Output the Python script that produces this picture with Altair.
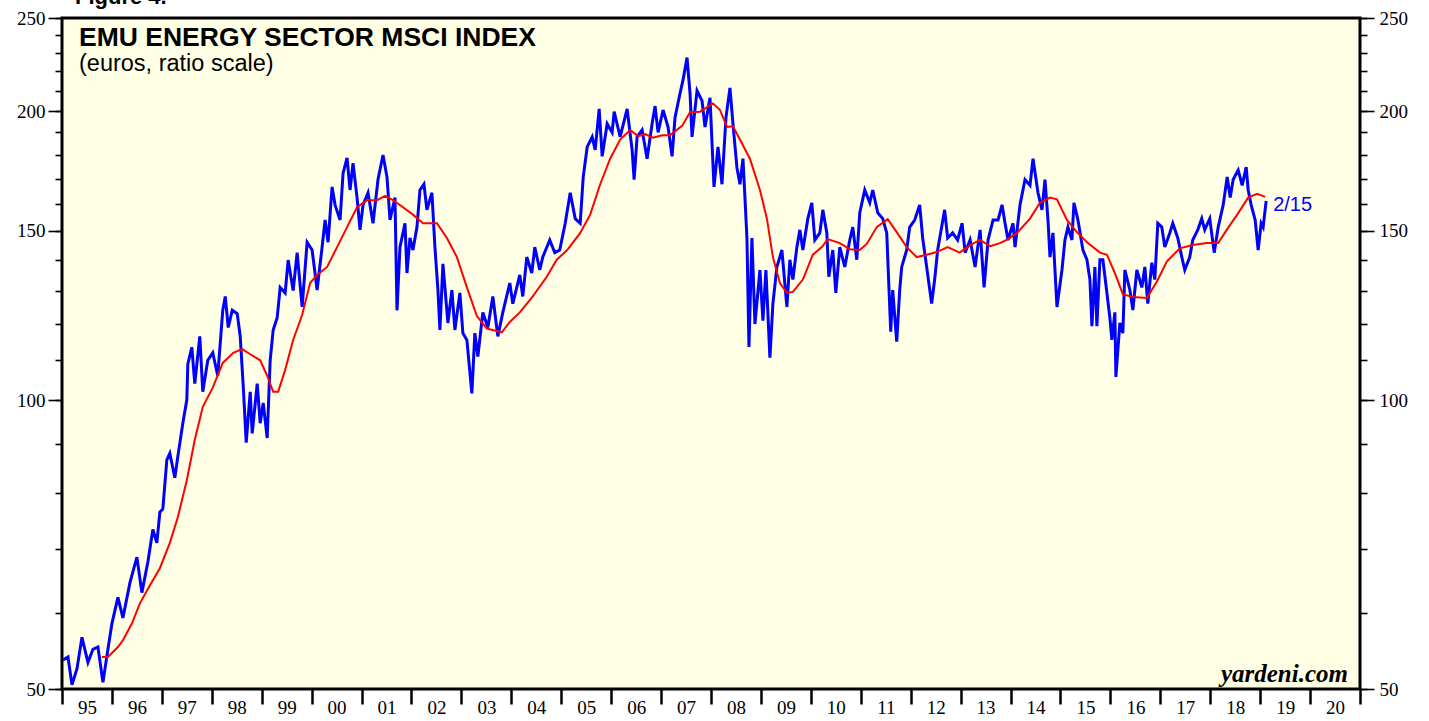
import altair as alt
import pandas as pd

# Blue: EMU energy sector MSCI index (decimal year, euros)
blue_t = [1995.02, 1995.12, 1995.20, 1995.30, 1995.40, 1995.52, 1995.62, 1995.72, 1995.82, 1995.92,
          1996.00, 1996.12, 1996.22, 1996.36, 1996.50, 1996.60, 1996.72, 1996.82, 1996.90, 1996.96,
          1997.02, 1997.10, 1997.16, 1997.26, 1997.32, 1997.42, 1997.50, 1997.52, 1997.60, 1997.66,
          1997.76, 1997.82, 1997.92, 1998.02, 1998.12, 1998.22, 1998.27, 1998.33, 1998.41, 1998.51,
          1998.57, 1998.63, 1998.69, 1998.77, 1998.81, 1998.91, 1998.97, 1999.03, 1999.11, 1999.17,
          1999.23, 1999.31, 1999.37, 1999.47, 1999.53, 1999.63, 1999.71, 1999.81, 1999.91, 2000.01,
          2000.11, 2000.21, 2000.27, 2000.33, 2000.41, 2000.47, 2000.57, 2000.63, 2000.71, 2000.77,
          2000.83, 2000.91, 2000.97, 2001.03, 2001.13, 2001.23, 2001.33, 2001.43, 2001.51, 2001.57,
          2001.67, 2001.71, 2001.77, 2001.87, 2001.91, 2001.97, 2002.03, 2002.11, 2002.17, 2002.25,
          2002.31, 2002.41, 2002.47, 2002.53, 2002.57, 2002.63, 2002.73, 2002.81, 2002.87, 2002.97,
          2003.03, 2003.11, 2003.21, 2003.27, 2003.33, 2003.43, 2003.53, 2003.63, 2003.73, 2003.83,
          2003.97, 2004.03, 2004.17, 2004.23, 2004.31, 2004.41, 2004.47, 2004.57, 2004.63, 2004.77,
          2004.87, 2004.97, 2005.08, 2005.18, 2005.28, 2005.38, 2005.44, 2005.52, 2005.62, 2005.68,
          2005.76, 2005.82, 2005.92, 2006.02, 2006.06, 2006.18, 2006.32, 2006.42, 2006.46, 2006.52,
          2006.62, 2006.72, 2006.82, 2006.88, 2006.94, 2007.04, 2007.14, 2007.22, 2007.28, 2007.38,
          2007.44, 2007.52, 2007.58, 2007.62, 2007.72, 2007.82, 2007.88, 2007.98, 2008.06, 2008.14,
          2008.22, 2008.30, 2008.38, 2008.44, 2008.52, 2008.58, 2008.64, 2008.68, 2008.72, 2008.76,
          2008.82, 2008.88, 2008.98, 2009.04, 2009.10, 2009.18, 2009.24, 2009.32, 2009.42, 2009.52,
          2009.58, 2009.64, 2009.72, 2009.78, 2009.84, 2009.94, 2010.02, 2010.08, 2010.18, 2010.24,
          2010.32, 2010.36, 2010.44, 2010.50, 2010.58, 2010.68, 2010.78, 2010.84, 2010.92, 2010.98,
          2011.08, 2011.18, 2011.24, 2011.34, 2011.44, 2011.52, 2011.60, 2011.64, 2011.72, 2011.78,
          2011.82, 2011.92, 2011.98, 2012.08, 2012.18, 2012.24, 2012.32, 2012.42, 2012.48, 2012.54,
          2012.62, 2012.68, 2012.74, 2012.84, 2012.94, 2013.03, 2013.09, 2013.19, 2013.29, 2013.39,
          2013.47, 2013.55, 2013.65, 2013.75, 2013.83, 2013.89, 2013.95, 2014.05, 2014.09, 2014.19,
          2014.29, 2014.39, 2014.45, 2014.55, 2014.63, 2014.69, 2014.75, 2014.79, 2014.85, 2014.93,
          2015.03, 2015.09, 2015.15, 2015.23, 2015.27, 2015.35, 2015.45, 2015.53, 2015.59, 2015.63,
          2015.69, 2015.73, 2015.79, 2015.85, 2015.93, 2015.99, 2016.03, 2016.09, 2016.11, 2016.19,
          2016.25, 2016.29, 2016.39, 2016.45, 2016.53, 2016.63, 2016.69, 2016.75, 2016.83, 2016.89,
          2016.95, 2017.03, 2017.09, 2017.19, 2017.25, 2017.35, 2017.43, 2017.49, 2017.59, 2017.65,
          2017.75, 2017.83, 2017.89, 2017.99, 2018.08, 2018.16, 2018.26, 2018.34, 2018.40, 2018.46,
          2018.56, 2018.64, 2018.72, 2018.76, 2018.82, 2018.90, 2018.96, 2019.02, 2019.06, 2019.12]
blue_v = [53.6, 54.0, 50.5, 52.5, 56.6, 53.3, 55.0, 55.3, 50.8, 55.0,
          58.5, 62.3, 59.3, 64.5, 68.6, 63.0, 67.8, 73.3, 71.0, 76.4,
          77.0, 86.6, 88.0, 83.0, 87.3, 94.6, 100.0, 109.0, 113.5, 104.0,
          116.5, 102.0, 110.0, 112.0, 106.0, 124.0, 128.2, 119.0, 124.0, 123.0,
          116.5, 103.5, 90.3, 102.0, 92.3, 104.0, 94.6, 99.3, 91.3, 110.0,
          118.3, 121.8, 131.0, 129.3, 139.9, 130.0, 142.4, 125.0, 146.0, 143.3,
          130.2, 144.3, 154.0, 146.0, 166.7, 159.7, 154.0, 172.3, 178.7, 165.5,
          176.5, 162.5, 150.4, 159.7, 164.4, 152.8, 169.7, 180.0, 170.7, 154.0,
          162.5, 124.0, 144.3, 152.8, 135.6, 147.5, 143.3, 151.4, 165.5, 167.8,
          157.8, 164.4, 144.3, 130.2, 118.3, 138.6, 120.3, 130.2, 118.3, 129.3,
          117.4, 115.5, 101.6, 117.4, 111.0, 123.4, 119.0, 128.2, 116.5, 123.4,
          132.4, 126.0, 135.0, 128.2, 140.9, 135.6, 144.3, 136.6, 140.9, 146.8,
          142.4, 143.3, 152.8, 164.4, 154.5, 152.8, 170.7, 183.5, 188.0, 182.2,
          201.0, 179.4, 194.0, 190.0, 199.7, 188.0, 201.0, 182.2, 169.7, 188.0,
          191.1, 178.4, 194.0, 202.4, 190.0, 200.5, 192.5, 179.4, 197.0, 208.7,
          215.5, 227.4, 208.7, 188.0, 210.0, 205.0, 192.5, 206.5, 166.7, 183.5,
          167.8, 197.0, 211.4, 194.0, 174.5, 167.8, 178.4, 162.5, 147.5, 113.6,
          147.5, 120.0, 136.6, 121.0, 136.6, 110.7, 126.0, 137.6, 143.3, 125.0,
          140.0, 133.5, 144.3, 150.4, 143.3, 154.5, 160.5, 146.8, 149.3, 157.8,
          149.3, 134.4, 143.3, 129.3, 144.3, 137.6, 146.8, 151.4, 140.0, 156.7,
          165.5, 160.5, 165.5, 156.7, 154.5, 149.3, 117.8, 130.2, 115.0, 130.2,
          137.6, 143.3, 151.4, 154.0, 159.7, 147.5, 137.6, 126.0, 133.5, 143.3,
          151.4, 157.8, 147.5, 149.3, 146.8, 152.8, 142.4, 146.8, 137.6, 150.4,
          131.0, 146.8, 154.0, 154.0, 159.7, 152.8, 146.8, 152.8, 144.3, 159.7,
          169.7, 167.3, 178.4, 164.4, 157.8, 169.7, 154.0, 140.9, 149.3, 125.0,
          136.6, 146.8, 151.4, 146.8, 160.5, 154.0, 143.3, 140.0, 133.5, 119.4,
          137.6, 119.4, 140.0, 140.0, 129.3, 121.8, 115.5, 123.4, 105.7, 120.3,
          117.4, 136.6, 130.2, 124.1, 136.6, 131.0, 137.6, 126.0, 139.0, 133.5,
          152.8, 151.4, 144.3, 149.3, 152.8, 147.5, 140.9, 136.6, 140.9, 146.8,
          150.4, 154.5, 150.4, 154.5, 142.4, 151.4, 159.7, 170.7, 162.5, 169.7,
          173.6, 167.3, 174.8, 165.5, 159.7, 154.0, 143.3, 152.8, 151.4, 161.2]

# Red: 52-week moving average
red_t = [1995.80, 1995.92, 1996.12, 1996.22, 1996.40, 1996.56, 1996.76, 1996.96, 1997.16, 1997.32,
         1997.50, 1997.66, 1997.82, 1998.02, 1998.22, 1998.43, 1998.61, 1998.77, 1998.97, 1999.11,
         1999.23, 1999.33, 1999.47, 1999.63, 1999.81, 1999.97, 2000.11, 2000.31, 2000.51, 2000.71,
         2000.91, 2001.11, 2001.31, 2001.47, 2001.63, 2001.83, 2002.03, 2002.23, 2002.51, 2002.71,
         2002.91, 2003.11, 2003.31, 2003.51, 2003.81, 2003.97, 2004.17, 2004.43, 2004.71, 2004.91,
         2005.12, 2005.38, 2005.58, 2005.78, 2005.98, 2006.18, 2006.38, 2006.54, 2006.68, 2006.84,
         2007.02, 2007.18, 2007.42, 2007.58, 2007.78, 2008.04, 2008.18, 2008.32, 2008.44, 2008.58,
         2008.78, 2008.98, 2009.12, 2009.24, 2009.38, 2009.52, 2009.64, 2009.84, 2010.04, 2010.22,
         2010.34, 2010.58, 2010.78, 2010.98, 2011.12, 2011.32, 2011.54, 2011.72, 2011.92, 2012.12,
         2012.32, 2012.52, 2012.74, 2012.98, 2013.19, 2013.39, 2013.59, 2013.79, 2013.95, 2014.13,
         2014.39, 2014.59, 2014.79, 2014.93, 2015.13, 2015.33, 2015.55, 2015.79, 2015.93, 2016.09,
         2016.25, 2016.45, 2016.73, 2016.93, 2017.13, 2017.39, 2017.65, 2017.93, 2018.16, 2018.33,
         2018.54, 2018.76, 2018.94, 2019.10]
red_v = [54.0, 54.0, 55.3, 56.2, 58.5, 61.4, 64.1, 66.8, 71.0, 75.5,
         82.5, 90.9, 98.4, 103.0, 109.3, 112.0, 113.0, 111.6, 110.0, 106.0,
         102.0, 102.0, 107.5, 115.5, 122.6, 132.4, 135.0, 137.6, 144.3, 151.4,
         158.8, 161.5, 161.5, 163.2, 161.5, 158.8, 156.0, 152.8, 152.8, 147.5,
         140.9, 131.0, 122.3, 118.7, 117.6, 120.6, 123.4, 128.2, 134.4, 140.0,
         143.3, 149.3, 156.0, 167.8, 178.4, 186.8, 191.1, 188.3, 189.2, 187.6,
         188.7, 188.7, 193.0, 199.4, 199.7, 203.7, 200.5, 192.5, 192.8, 186.8,
         178.4, 165.5, 154.5, 140.9, 132.4, 129.3, 129.6, 133.5, 141.7, 144.3,
         147.1, 145.7, 143.6, 143.3, 145.4, 151.4, 154.3, 149.6, 144.3, 140.9,
         141.7, 142.6, 144.3, 142.4, 145.0, 146.8, 144.6, 145.7, 147.1, 149.3,
         154.5, 160.5, 162.5, 161.8, 154.0, 149.6, 145.7, 142.4, 141.7, 135.6,
         128.9, 128.0, 127.7, 132.8, 139.4, 143.9, 145.0, 145.7, 145.7, 150.4,
         156.0, 162.5, 164.0, 162.8]

years = list(range(1995, 2022))
y_major = [50, 100, 150, 200, 250]
y_minor = list(range(50, 251, 10))
end_label = "2/15"

blue_df = pd.DataFrame({"t": blue_t, "v": blue_v})
red_df = pd.DataFrame({"t": red_t, "v": red_v})
lab_df = pd.DataFrame({"t": [blue_t[-1]], "v": [blue_v[-1]], "label": [end_label]})
one = pd.DataFrame({"a": [0]})

xscale = alt.Scale(domain=[1995, 2021], nice=False, zero=False)
yscale = alt.Scale(type="log", domain=[50, 250], nice=False)

SERIF = "Liberation Serif"
SANS = "Liberation Sans"

xaxis = alt.Axis(values=years, title=None, grid=False, domain=False,
                 labelExpr="datum.value < 2021 ? substring(toString(datum.value), 2, 4) : ''",
                 labelOffset=25, labelFlush=False, labelPadding=-6,
                 tickSize=15, tickWidth=2.5, tickColor="black",
                 labelFont=SERIF, labelFontSize=19, labelColor="black")


def yaxis(orient, values, size, labels):
    kw = dict(orient=orient, values=values, title=None, grid=False, domain=False,
              tickSize=size, tickWidth=1.6, tickColor="black", labels=labels)
    if labels:
        kw.update(labelFont=SERIF, labelFontSize=19, labelColor="black",
                  labelPadding=3 if orient == "left" else 5, format="d")
    return alt.Axis(**kw)


blue = alt.Chart(blue_df).mark_line(color="#0000FF", strokeWidth=3).encode(
    x=alt.X("t:Q", scale=xscale, axis=xaxis),
    y=alt.Y("v:Q", scale=yscale, axis=yaxis("left", y_minor, 7, False)),
)
red = alt.Chart(red_df).mark_line(color="#FF0000", strokeWidth=2).encode(
    x=alt.X("t:Q", scale=xscale, axis=xaxis),
    y=alt.Y("v:Q", scale=yscale, axis=yaxis("left", y_major, 14, True)),
)
label = alt.Chart(lab_df).mark_text(color="#0000FF", font=SANS, fontSize=20,
                                    align="left", baseline="middle", dx=7, dy=4).encode(
    x=alt.X("t:Q", scale=xscale, axis=xaxis),
    y=alt.Y("v:Q", scale=yscale, axis=yaxis("right", y_major, 14, True)),
    text="label:N",
)
yard = alt.Chart(one).mark_text(text="yardeni.com", font=SERIF, fontSize=25,
                                fontWeight="bold", fontStyle="italic",
                                align="right", baseline="alphabetic", dy=-7).encode(
    x=alt.value(1286),
    y=alt.YDatum(50, type="quantitative", scale=yscale, axis=yaxis("right", y_minor, 7, False)),
)
title = alt.Chart(one).mark_text(text="EMU ENERGY SECTOR MSCI INDEX", font=SANS, fontSize=26.5,
                                 fontWeight="bold", align="left", baseline="alphabetic",
                                 color="black").encode(x=alt.value(17), y=alt.value(28))
subtitle = alt.Chart(one).mark_text(text="(euros, ratio scale)", font=SANS, fontSize=23.5,
                                    align="left", baseline="alphabetic",
                                    color="black").encode(x=alt.value(17), y=alt.value(53))
fig = alt.Chart(one).mark_text(text="Figure 4.", font=SANS, fontSize=22, fontWeight="bold",
                               align="left", baseline="alphabetic",
                               color="black").encode(x=alt.value(13), y=alt.value(-14))

chart = alt.layer(blue, red, label, yard, title, subtitle, fig).resolve_axis(
    y="independent"
).properties(
    width=1298, height=671,
    padding={"left": 62, "top": 18, "right": 69, "bottom": 32},
    autosize=alt.AutoSizeParams(type="none"),
    background="white",
).configure_view(fill="#FFFFE6", stroke="black", strokeWidth=3)

chart.save("out.html", embed_options={"renderer": "svg", "actions": False})
